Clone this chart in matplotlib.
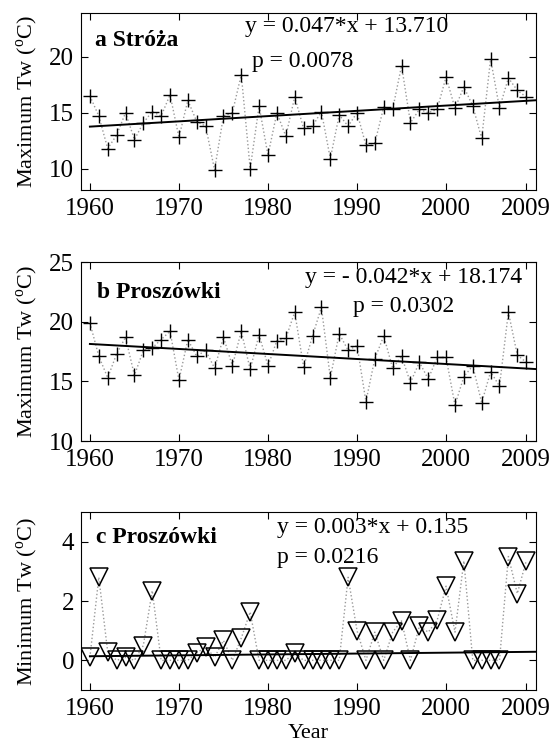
import numpy as np
import matplotlib
matplotlib.use("Agg")
import matplotlib.pyplot as plt

plt.rcParams['font.family'] = ['Liberation Serif', 'DejaVu Serif']
plt.rcParams['mathtext.fontset'] = 'custom'
plt.rcParams['mathtext.rm'] = 'Liberation Serif'

years = list(range(1960, 2010))

stroza_max = [16.5, 14.7, 11.8, 13.0, 15.0, 12.6, 14.1, 15.1, 14.7, 16.6,
              12.8, 16.1, 14.2, 13.8, 9.9, 14.7, 15.0, 18.4, 10.0, 15.6,
              11.2, 15.0, 12.9, 16.4, 13.6, 13.8, 15.1, 10.9, 14.8, 13.8,
              15.0, 12.1, 12.3, 15.5, 15.3, 19.2, 14.1, 15.3, 15.0, 15.3,
              18.2, 15.4, 17.3, 15.6, 12.7, 19.8, 15.4, 18.1, 17.0, 16.4]

proszowki_max = [19.9, 17.1, 15.3, 17.3, 18.7, 15.5, 17.6, 17.8, 18.5, 19.2,
                 15.1, 18.5, 17.1, 17.6, 16.1, 18.7, 16.3, 19.2, 16.0, 18.9,
                 16.3, 18.4, 18.6, 20.8, 16.2, 18.8, 21.2, 15.3, 19.0, 17.6,
                 18.0, 13.3, 16.9, 18.8, 16.1, 17.1, 14.9, 16.6, 15.2, 17.0,
                 17.0, 13.0, 15.4, 16.3, 13.2, 15.8, 14.6, 20.8, 17.2, 16.6]

proszowki_min = [0.1, 2.8, 0.28, 0.0, 0.1, 0.0, 0.5, 2.35, 0.0, 0.0,
                 0.0, 0.0, 0.25, 0.45, 0.1, 0.67, 0.0, 0.75, 1.63, 0.0,
                 0.0, 0.0, 0.0, 0.25, 0.0, 0.0, 0.0, 0.0, 0.0, 2.8,
                 1.0, 0.0, 0.95, 0.0, 0.95, 1.33, 0.0, 1.15, 0.95, 1.35,
                 2.5, 0.95, 3.35, 0.0, 0.0, 0.0, 0.0, 3.5, 2.25, 3.35]

trend_slope = [0.047, -0.042, 0.003]
trend_icpt = [13.710, 18.174, 0.135]
eq_texts = ["y = 0.047*x + 13.710", "y = - 0.042*x + 18.174", "y = 0.003*x + 0.135"]
p_texts = ["p = 0.0078", "p = 0.0302", "p = 0.0216"]
panel_labels = ["a Stróża", "b Proszówki", "c Proszówki"]
ylabels = ["Maximum Tw ($^{\\mathregular{o}}$C)", "Maximum Tw ($^{\\mathregular{o}}$C)",
           "Minimum Tw ($^{\\mathregular{o}}$C)"]
xticks = [1960, 1970, 1980, 1990, 2000, 2009]
yticks_list = [[10, 15, 20], [10, 15, 20, 25], [0, 2, 4]]
ylims = [(8.1, 23.9), (10, 25), (-1, 5)]

W, H = 552, 751
fig = plt.figure(figsize=(W / 100, H / 100), dpi=100)

# axes boxes in pixels: (left, top, right, bottom)
boxes = [(81, 13, 536, 190), (81, 262, 536, 441), (81, 512, 536, 690)]
# text positions (axes fraction, baseline)
lab_pos = [(0.031, 0.814), (0.035, 0.799), (0.033, 0.8275)]
eq_pos = [(0.36, 0.893), (0.492, 0.883), (0.431, 0.884)]
p_pos = [(0.376, 0.695), (0.598, 0.72), (0.431, 0.712)]

series = [stroza_max, proszowki_max, proszowki_min]
fs = 17

for i in range(3):
    l, t, r, b = boxes[i]
    ax = fig.add_axes([l / W, 1 - b / H, (r - l) / W, (b - t) / H])
    yrs = np.array(years)
    vals = np.array(series[i])
    ax.plot(yrs, vals, linestyle=':', color='#9a9a9a', linewidth=1.0, zorder=1)
    if i < 2:
        ax.plot(yrs, vals, linestyle='none', marker='+', markersize=10,
                markeredgewidth=1.0, color='black', zorder=3)
    else:
        ax.plot(yrs, vals, linestyle='none', marker='v', markersize=12.5,
                markerfacecolor='none', markeredgecolor='black',
                markeredgewidth=1.1, zorder=3)
    ax.set_xlim(1959, 2010.1)
    ax.set_ylim(*ylims[i])
    xs = np.array([yrs[0], ax.get_xlim()[1]])
    ax.plot(xs, trend_slope[i] * (xs - yrs[0] + 1) + trend_icpt[i],
            color='black', linewidth=1.4, zorder=2)
    ax.set_xticks(xticks)
    ax.set_yticks(yticks_list[i])
    ax.tick_params(direction='in', top=True, right=True, length=5,
                   width=0.8, labelsize=18)
    ax.tick_params(axis='x', pad=6)
    ax.tick_params(axis='y', pad=5)
    for s in ax.spines.values():
        s.set_linewidth(0.8)
    ax.set_ylabel(ylabels[i], fontsize=16)
    ax.yaxis.set_label_coords(-0.09, 0.5)
    ax.text(lab_pos[i][0], lab_pos[i][1], panel_labels[i], transform=ax.transAxes,
            fontsize=fs, fontweight='bold', va='baseline', ha='left')
    ax.text(eq_pos[i][0], eq_pos[i][1], eq_texts[i], transform=ax.transAxes,
            fontsize=fs, va='baseline', ha='left')
    ax.text(p_pos[i][0], p_pos[i][1], p_texts[i], transform=ax.transAxes,
            fontsize=fs, va='baseline', ha='left')
    if i == 2:
        ax.set_xlabel("Year", fontsize=16, labelpad=3)

fig.savefig("out.png", dpi=100)
